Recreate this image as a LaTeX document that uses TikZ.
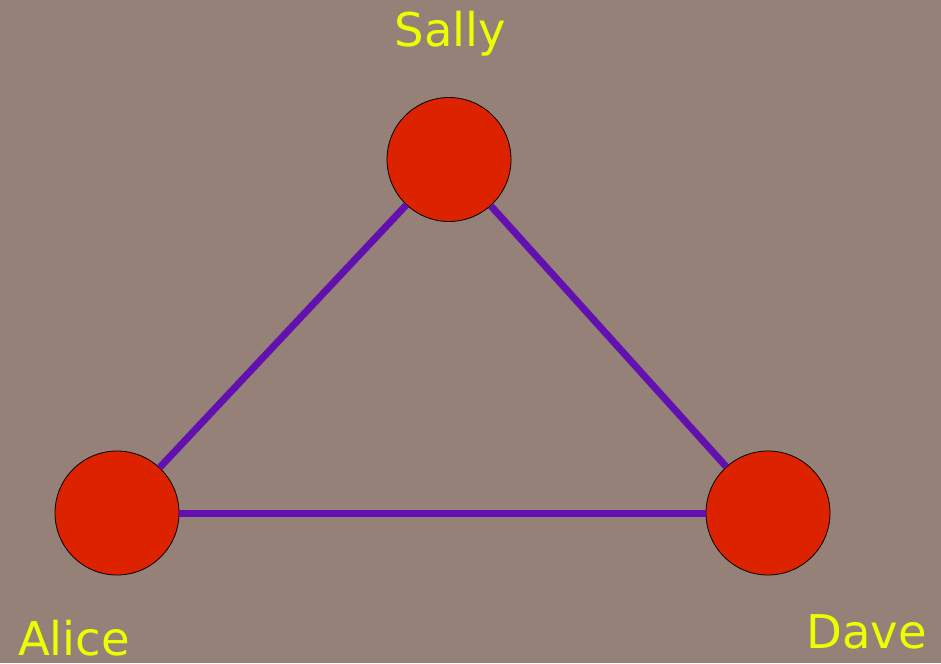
\documentclass[tikz,border=0pt]{standalone}
\usepackage{fontspec}
\setmainfont{DejaVu Sans}
\definecolor{bg}{RGB}{149,129,120}
\definecolor{nodered}{RGB}{221,34,0}
\definecolor{edgepurple}{RGB}{98,16,176}
\definecolor{labelyellow}{RGB}{235,255,0}
\begin{document}
\begin{tikzpicture}[x=1pt,y=-1pt,
  person/.style={circle,draw=black,line width=0.8pt,fill=nodered,minimum size=124pt,inner sep=0pt},
  link/.style={draw=edgepurple,line width=7pt},
  lbl/.style={text=labelyellow,font=\fontsize{46.5}{56}\selectfont,anchor=base,inner sep=0pt}]
\fill[bg] (0,0) rectangle (941,663);
\useasboundingbox (0,0) rectangle (941,663);
\node[person] (sally) at (449,159.5) {};
\node[person] (alice) at (117,513) {};
\node[person] (dave) at (768,513) {};
\draw[link] (sally) -- (alice);
\draw[link] (sally) -- (dave);
\draw[link] (alice) -- (dave);
\node[lbl] (lsally) at (450.5,47) {Sally};
\node[lbl] (lalice) at (74,655) {Alice};
\node[lbl] (ldave) at (866.5,648) {Dave};
\end{tikzpicture}
\end{document}
